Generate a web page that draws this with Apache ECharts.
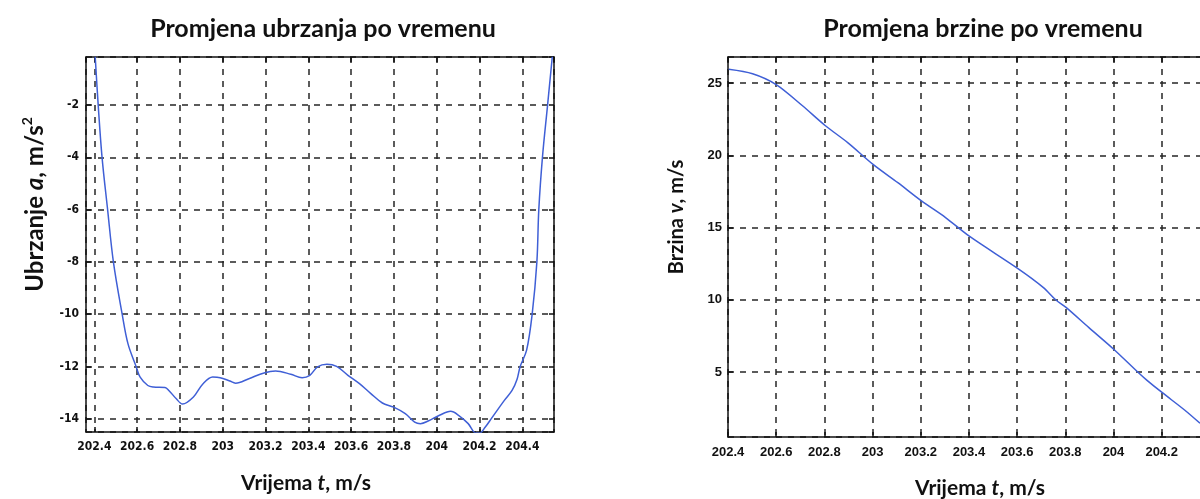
<!DOCTYPE html>
<html>
<head>
<meta charset="utf-8">
<script src="https://cdn.jsdelivr.net/npm/echarts@6/dist/echarts.min.js"></script>
<style>
html,body{margin:0;padding:0;background:#fff;}
#c{width:1200px;height:499px;}
</style>
</head>
<body>
<div id="c"></div>
<script>
// ---- data ----
const accelTime = [202.404, 202.418, 202.436, 202.462, 202.489, 202.53, 202.557, 202.595, 202.614, 202.65, 202.676, 202.73, 202.748, 202.783, 202.812, 202.863, 202.908, 202.953, 202.988, 203.033, 203.06, 203.122, 203.193, 203.247, 203.318, 203.371, 203.407, 203.443, 203.487, 203.532, 203.585, 203.639, 203.692, 203.746, 203.799, 203.853, 203.897, 203.924, 203.96, 204.013, 204.065, 204.102, 204.147, 204.183, 204.2, 204.227, 204.255, 204.316, 204.352, 204.375, 204.39, 204.42, 204.446, 204.468, 204.477, 204.494, 204.518, 204.54];
const accelValue = [-0.15, -2, -4, -6, -8, -10, -11.13, -12, -12.41, -12.73, -12.79, -12.81, -12.92, -13.24, -13.44, -13.17, -12.66, -12.41, -12.43, -12.56, -12.64, -12.47, -12.25, -12.18, -12.3, -12.43, -12.34, -12.02, -11.92, -12.0, -12.34, -12.66, -13.04, -13.4, -13.56, -13.81, -14.13, -14.19, -14.09, -13.87, -13.72, -13.87, -14.19, -14.55, -14.55, -14.32, -14.0, -13.3, -12.92, -12.5, -12.0, -11.38, -10.0, -8.0, -6.0, -4.0, -2.0, -0.15];

const speedTime = [202.403, 202.502, 202.6, 202.708, 202.803, 202.898, 203.002, 203.105, 203.203, 203.303, 203.403, 203.605, 203.708, 203.76, 203.803, 203.898, 204.002, 204.105, 204.138, 204.2, 204.295, 204.359];
const speedValue = [25.95, 25.64, 24.89, 23.44, 22.06, 20.86, 19.37, 18.1, 16.84, 15.69, 14.38, 12.14, 10.86, 10.0, 9.47, 8.07, 6.56, 4.93, 4.44, 3.6, 2.37, 1.45];

// tick labels shown on the right chart's time axis (the 204.4 label is cut off in the reference)
const speedTimeLabels = [202.4, 202.6, 202.8, 203, 203.2, 203.4, 203.6, 203.8, 204, 204.2];

const leftTitle = 'Promjena ubrzanja po vremenu';
const rightTitle = 'Promjena brzine po vremenu';

// ---- styles ----
const nameFont = 'Lato, "Open Sans", "Noto Sans", sans-serif';
const tickFontNarrow = '"Liberation Sans Narrow", "DejaVu Sans Condensed", "Liberation Sans", Arial, sans-serif';
const tickFont = '"Liberation Sans", Arial, sans-serif';
const gridLine = {show: true, lineStyle: {type: [6, 6], color: '#262626', width: 1.5}};
const boxLine = {show: true, onZero: false, lineStyle: {color: '#111', width: 1.5}};
const inTick = {show: true, inside: true, length: 5, lineStyle: {color: '#111', width: 1.5}};
const lineColor = '#3f5fd6';

function richName(fs) {
  return {
    n: {fontFamily: nameFont, fontWeight: 'bold', fontSize: fs, color: '#111', lineHeight: fs + 6},
    i: {fontFamily: nameFont, fontWeight: 'bold', fontStyle: 'italic', fontSize: fs, color: '#111', lineHeight: fs + 6},
    s: {fontFamily: nameFont, fontWeight: 'bold', fontSize: Math.round(fs * 0.6), color: '#111', verticalAlign: 'top', lineHeight: Math.round(fs * 0.6)}
  };
}

const L = {min: 202.361, max: 204.548};
const LY = {min: -14.51, max: -0.16};
const R = {min: 202.4, max: 204.55};
const RY = {min: 0.5, max: 26.8};

const option = {
  backgroundColor: '#fff',
  animation: false,
  title: [
    {text: leftTitle, left: 323, top: 16, textAlign: 'center', padding: 0,
     textStyle: {fontFamily: nameFont, fontWeight: 'bold', fontSize: 25, color: '#111'}},
    {text: rightTitle, left: 983, top: 16, textAlign: 'center', padding: 0,
     textStyle: {fontFamily: nameFont, fontWeight: 'bold', fontSize: 25, color: '#111'}}
  ],
  grid: [
    {left: 86, top: 57, width: 468, height: 375, containLabel: false, outerBoundsMode: 'none'},
    {left: 728, top: 57, width: 518, height: 380, containLabel: false, outerBoundsMode: 'none'}
  ],
  xAxis: [
    {type: 'value', gridIndex: 0, position: 'bottom', min: L.min, max: L.max, splitNumber: 10, minInterval: 0.2, maxInterval: 0.2,
     axisLine: boxLine, axisTick: inTick, splitLine: gridLine,
     axisLabel: {showMinLabel: false, showMaxLabel: false, margin: 9, fontFamily: tickFontNarrow, fontWeight: 'bold', fontSize: 12, color: '#111'},
     name: '{n|Vrijema }{i|t}{n|, m/s}', nameLocation: 'middle', nameGap: 38,
     nameTextStyle: {rich: richName(21), padding: [0, 28, 0, 0]}},
    {type: 'value', gridIndex: 0, position: 'top', min: L.min, max: L.max, splitNumber: 10, minInterval: 0.2, maxInterval: 0.2,
     axisLine: boxLine, axisTick: inTick, splitLine: {show: false}, axisLabel: {show: false}},
    {type: 'value', gridIndex: 1, position: 'bottom', min: R.min, max: R.max, splitNumber: 10, minInterval: 0.2, maxInterval: 0.2,
     axisLine: boxLine, axisTick: inTick, splitLine: gridLine,
     axisLabel: {customValues: speedTimeLabels, margin: 9, fontFamily: tickFont, fontWeight: 'bold', fontSize: 13, color: '#111'},
     name: '{n|Vrijema }{i|t}{n|, m/s}', nameLocation: 'middle', nameGap: 38,
     nameTextStyle: {rich: richName(21), padding: [0, 14, 0, 0]}},
    {type: 'value', gridIndex: 1, position: 'top', min: R.min, max: R.max, splitNumber: 10, minInterval: 0.2, maxInterval: 0.2,
     axisLine: boxLine, axisTick: inTick, splitLine: {show: false}, axisLabel: {show: false}}
  ],
  yAxis: [
    {type: 'value', gridIndex: 0, position: 'left', min: LY.min, max: LY.max, splitNumber: 7, minInterval: 2, maxInterval: 2,
     axisLine: boxLine, axisTick: inTick, splitLine: gridLine,
     axisLabel: {showMinLabel: false, showMaxLabel: false, margin: 7, fontFamily: tickFontNarrow, fontWeight: 'bold', fontSize: 12, color: '#111'},
     name: '{n|Ubrzanje }{i|a}{n|, m/s}{s|2}', nameLocation: 'middle', nameGap: 36,
     nameTextStyle: {rich: richName(24), padding: [0, 0, 0, 80]}},
    {type: 'value', gridIndex: 0, position: 'right', min: LY.min, max: LY.max, splitNumber: 7, minInterval: 2, maxInterval: 2,
     axisLine: boxLine, axisTick: inTick, splitLine: {show: false}, axisLabel: {show: false}},
    {type: 'value', gridIndex: 1, position: 'left', min: RY.min, max: RY.max, splitNumber: 5, minInterval: 5, maxInterval: 5,
     axisLine: boxLine, axisTick: inTick, splitLine: gridLine,
     axisLabel: {showMinLabel: false, showMaxLabel: false, margin: 6, fontFamily: tickFont, fontWeight: 'bold', fontSize: 13, color: '#111'},
     name: '{n|Brzina }{i|v}{n|, m/s}', nameLocation: 'middle', nameGap: 38,
     nameTextStyle: {rich: richName(20), padding: [0, 0, 0, 60]}},
    {type: 'value', gridIndex: 1, position: 'right', min: RY.min, max: RY.max, splitNumber: 5, minInterval: 5, maxInterval: 5,
     axisLine: boxLine, axisTick: inTick, splitLine: {show: false}, axisLabel: {show: false}}
  ],
  series: [
    {type: 'line', xAxisIndex: 0, yAxisIndex: 0, data: accelTime.map((t, k) => [t, accelValue[k]]),
     showSymbol: false, smooth: 0.35, clip: true,
     lineStyle: {color: lineColor, width: 1.5}},
    {type: 'line', xAxisIndex: 2, yAxisIndex: 2, data: speedTime.map((t, k) => [t, speedValue[k]]),
     showSymbol: false, smooth: 0.3, clip: true,
     lineStyle: {color: lineColor, width: 1.5}}
  ]
};

const chart = echarts.init(document.getElementById('c'), null, {renderer: 'canvas'});
chart.setOption(option);
</script>
</body>
</html>
